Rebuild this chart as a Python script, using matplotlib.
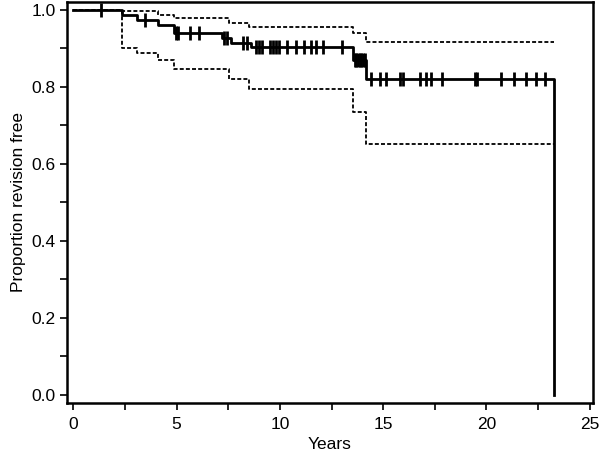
import matplotlib
matplotlib.use('Agg')
import matplotlib.pyplot as plt
from matplotlib.ticker import MultipleLocator, FormatStrFormatter

plt.rcParams['font.family'] = ['Liberation Sans', 'DejaVu Sans']

# Kaplan-Meier estimate (years, proportion revision free)
km_times = [0, 2.36, 3.08, 4.09, 4.88, 7.2, 7.64, 8.6, 13.56, 14.18, 23.27]
km_surv = [1.0, 0.985, 0.972, 0.959, 0.938, 0.925, 0.914, 0.904, 0.868, 0.821, 0.0]

# censored observations
cens_times = [1.35, 3.48, 4.95, 5.05, 5.65, 6.1, 7.3, 7.45, 8.2, 8.4,
              8.85, 9.0, 9.15, 9.5, 9.65, 9.8, 9.95, 10.35, 10.8, 11.15,
              11.5, 11.75, 12.1, 13.0, 13.62, 13.7, 13.78, 13.86, 13.94,
              14.02, 14.1, 14.4, 14.85, 15.15, 15.8, 15.95, 16.8, 17.05,
              17.3, 17.85, 19.45, 19.55, 20.7, 21.35, 21.9, 22.4, 22.85]

# 95% confidence limits
ci_times = [0, 2.36, 3.08, 4.09, 4.88, 7.55, 8.5, 13.56, 14.18, 23.27]
ci_upper = [1.0, 0.997, 0.997, 0.987, 0.977, 0.966, 0.956, 0.940, 0.916, 0.916]
ci_lower = [1.0, 0.900, 0.888, 0.868, 0.846, 0.820, 0.795, 0.735, 0.652, 0.652]


def surv_at(t):
    s = km_surv[0]
    for ti, si in zip(km_times, km_surv):
        if ti <= t:
            s = si
    return s


fig = plt.figure(figsize=(6.0, 4.61), dpi=100)
ax = fig.add_axes([0.112, 0.126, 0.876, 0.870])

dash = (0, (2.2, 1.2))
ax.plot(ci_times, ci_upper, drawstyle='steps-post', color='black', lw=1.3, linestyle=dash)
ax.plot(ci_times, ci_lower, drawstyle='steps-post', color='black', lw=1.3, linestyle=dash)
ax.plot(km_times, km_surv, drawstyle='steps-post', color='black', lw=2.0)
ax.plot(cens_times, [surv_at(t) for t in cens_times], linestyle='none',
        marker='|', markersize=10, markeredgewidth=2.0, color='black')

ax.set_xlim(-0.3, 25.15)
ax.set_ylim(-0.021, 1.02)
ax.xaxis.set_major_locator(MultipleLocator(5))
ax.xaxis.set_minor_locator(MultipleLocator(2.5))
ax.yaxis.set_major_locator(MultipleLocator(0.2))
ax.yaxis.set_minor_locator(MultipleLocator(0.1))
ax.yaxis.set_major_formatter(FormatStrFormatter('%.1f'))
ax.tick_params(which='both', direction='out', length=5, width=1.2, labelsize=12.5)
ax.tick_params(axis='x', pad=5)
for sp in ax.spines.values():
    sp.set_linewidth(1.8)

ax.set_xlabel('Years', fontsize=12.5, labelpad=4)
ax.set_ylabel('Proportion revision free', fontsize=12.5, labelpad=4)

fig.savefig('out.png', dpi=100)
